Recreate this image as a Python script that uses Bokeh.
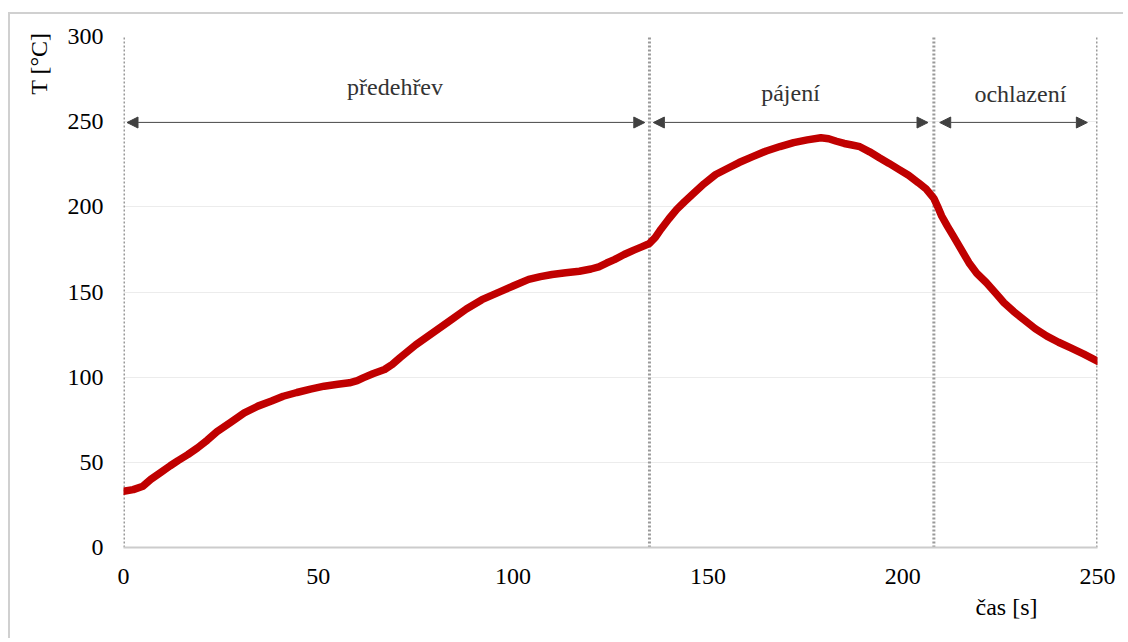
from bokeh.plotting import figure
from bokeh.models import Range1d, Label, Arrow, NormalHead, FixedTicker, Title
from bokeh.embed import file_html
from bokeh.resources import INLINE

# ---- data ----
time_s = [0, 2.5, 5, 7, 9.5, 12, 14, 16.5, 19, 21.5, 24, 27.5, 31, 34.5, 38, 41, 44.5, 48, 51.5,
          55, 58, 60, 61.5, 64, 67, 69, 71, 75, 80, 84, 88, 92, 97, 100, 104, 107, 110, 113.5,
          117, 120, 122, 124, 126, 128.5, 131, 133, 135, 136.5, 138, 140, 142, 144, 146, 149,
          152, 155, 158, 161.5, 165, 168.5, 172, 175.5, 179, 181, 183, 185, 187, 189, 191.5,
          194, 196.5, 199, 201.5, 204, 206, 208, 209, 210, 211.5, 213, 215, 217, 219, 221.5,
          224, 226, 228.5, 231, 234, 237, 240, 243, 246.5, 250]
temp_c = [33, 34, 36, 40, 44, 48, 51, 54.5, 58.5, 63, 68, 73.5, 79, 83, 86, 88.8, 91, 93, 94.7,
          95.8, 96.7, 98, 99.6, 102, 104.5, 107.5, 111.5, 119, 127, 133.5, 140, 145.5, 150.5, 153.5, 157.4, 159, 160.3, 161.3,
          162.2, 163.5, 164.8, 167, 169, 172, 174.6, 176.5, 178.5, 182, 187, 193, 198.5, 203, 207.3, 213.5,
          219, 222.5, 226, 229.5, 232.8, 235.4, 237.7, 239.3, 240.6, 240, 238.5, 237.2, 236.3, 235.3, 232.3,
          228.8, 225.5, 222, 218.5, 214.2, 210.5, 205, 200, 194.6, 188.5, 182.8, 175, 167.2, 161, 155.4,
          149, 143.7, 138.5, 133.9, 128.5, 124.1, 120.5, 117.3, 113.5, 109.4]
phase_bounds = [0, 135, 208, 250]
phase_names = ["předehřev", "pájení", "ochlazení"]
phase_label_x = [69.7, 171.2, 230.2]
phase_label_y = [270.5, 267, 266]
x_ticks = [0, 50, 100, 150, 200, 250]
y_ticks = [0, 50, 100, 150, 200, 250, 300]

FONT = "Liberation Serif"
FS = "24px"

p = figure(width=1115, height=626, output_backend="svg", toolbar_location=None,
           x_range=Range1d(0, 250), y_range=Range1d(0, 300),
           min_border_left=112, min_border_top=22, min_border_right=28, min_border_bottom=93)
p.outline_line_color = None
p.background_fill_color = "white"
p.border_fill_color = "white"
p.styles = {"border-left": "2px solid #d0d0d0", "border-top": "2px solid #d0d0d0",
            "margin-top": "12px", "margin-left": "8px"}

p.xgrid.grid_line_color = None
p.ygrid.grid_line_color = "#ececec"
p.ygrid.grid_line_width = 1
p.ygrid.ticker = FixedTicker(ticks=y_ticks)

p.xaxis.ticker = FixedTicker(ticks=x_ticks)
p.yaxis.ticker = FixedTicker(ticks=y_ticks)
for ax in (p.xaxis[0], p.yaxis[0]):
    ax.major_tick_line_color = None
    ax.minor_tick_line_color = None
    ax.major_label_text_font = FONT
    ax.major_label_text_font_size = FS
    ax.major_label_text_color = "black"
    ax.major_tick_out = 0
    ax.major_tick_in = 0
p.xaxis.axis_line_color = "#cccccc"
p.xaxis.axis_line_width = 2
p.yaxis.axis_line_color = None
p.xaxis.major_label_standoff = 21
p.yaxis.major_label_standoff = 20

# axis titles
p.add_layout(Title(text="T [°C]", align="right", text_font=FONT, text_font_size=FS,
                   text_font_style="normal", text_color="black", standoff=26, offset=-4), "left")
p.add_layout(Title(text="čas [s]", align="right", text_font=FONT, text_font_size=FS,
                   text_font_style="normal", text_color="black", standoff=11, offset=60), "below")

# phase boundaries
p.segment(x0=phase_bounds, y0=[0] * 4, x1=phase_bounds, y1=[300] * 4,
          line_color="#9a9a9a", line_width=3, line_dash="2 2")

# curve
p.line(time_s, temp_c, line_color="#c00000", line_width=7.5, line_join="round", line_cap="round")

# arrows
gap_l = [0.9, 1.0, 1.5]
gap_r = [1.2, 1.5, 2.6]
for i in range(3):
    p.add_layout(Arrow(x_start=phase_bounds[i] + gap_l[i], x_end=phase_bounds[i + 1] - gap_r[i],
                       y_start=249.5, y_end=249.5,
                       start=NormalHead(size=11, fill_color="#404040", line_color="#404040"),
                       end=NormalHead(size=11, fill_color="#404040", line_color="#404040"),
                       line_color="#595959", line_width=1.2))
    p.add_layout(Label(x=phase_label_x[i], y=phase_label_y[i], text=phase_names[i], text_align="center",
                       text_baseline="alphabetic", text_font=FONT, text_font_size=FS,
                       text_color="#333333"))

open("out.html", "w").write(file_html(p, INLINE))
